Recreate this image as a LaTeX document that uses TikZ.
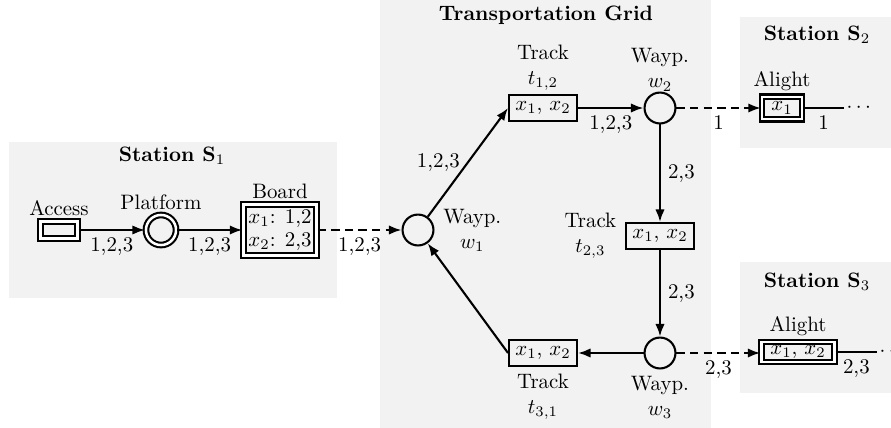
\documentclass[tikz,border=0pt]{standalone}
\usetikzlibrary{arrows.meta,positioning}
\begin{document}
\begin{tikzpicture}[x=0.016835cm,y=-0.016835cm,
  bg/.style={fill=black!5},
  ttl/.style={font=\bfseries},
  way/.style={circle,draw,line width=1pt,minimum size=14.8pt,inner sep=0pt},
  plat/.style={circle,draw,line width=1pt,double,double distance=1.2pt,minimum size=14.4pt,inner sep=0pt},
  trk/.style={rectangle,draw,line width=1pt,minimum width=32.5pt,minimum height=12.4pt,inner sep=1pt},
  dbox/.style={rectangle,draw,line width=1pt,double,double distance=1.2pt,inner sep=1pt},
  arr/.style={line width=1pt,-{Latex[length=6pt,width=4.5pt]}},
  darr/.style={arr,dash pattern=on 4pt off 2.5pt},
  ln/.style={line width=1pt},
  lbl/.style={inner sep=2pt,align=center},
  ]
\useasboundingbox (0,0) rectangle (891,428);
% backgrounds
\fill[bg] (9,142) rectangle (337,298);
\fill[bg] (380,0) rectangle (711,428);
\fill[bg] (740,17) rectangle (891,148);
\fill[bg] (740,262) rectangle (891,393);
% titles
\node[ttl] (tS1) at (172,156) {Station $\mathbf{S}_1$};
\node[ttl] (tG) at (546,15) {Transportation Grid};
\node[ttl] (tS2) at (817,35) {Station $\mathbf{S}_2$};
\node[ttl] (tS3) at (817,282) {Station $\mathbf{S}_3$};
% station 1
\node[dbox,minimum width=17.8pt,minimum height=8.3pt] (acc) at (59,230) {};
\node[lbl,above=0pt of acc.north] (accL) {Access};
\node[plat] (plat) at (161,230) {};
\node[lbl,above=0pt of plat.north] (platL) {Platform};
\node[dbox,minimum width=35.1pt,minimum height=24.6pt,align=left,inner sep=1pt] (board) at (280,230) {$x_1$: 1,2\\[-1pt]$x_2$: 2,3};
\node[lbl,above=0pt of board.north] (boardL) {Board};
% grid
\node[way] (w1) at (418,230) {};
\node[lbl,right=2pt of w1] (w1L) {Wayp.\\$w_1$};
\node[trk] (t12) at (543,108) {$x_1$, $x_2$};
\node[lbl,above=-0.5pt of t12] (t12L) {Track\\$t_{1,2}$};
\node[way] (w2) at (660,108) {};
\node[lbl,above=-2pt of w2] (w2L) {Wayp.\\$w_2$};
\node[trk] (t23) at (660,236) {$x_1$, $x_2$};
\node[lbl,left=2pt of t23] (t23L) {Track\\$t_{2,3}$};
\node[way] (w3) at (660,353) {};
\node[lbl,below=1pt of w3] (w3L) {Wayp.\\$w_3$};
\node[trk] (t31) at (543,353) {$x_1$, $x_2$};
\node[lbl,below=1pt of t31] (t31L) {Track\\$t_{3,1}$};
% station 2 and 3
\node[dbox,minimum width=19.3pt,minimum height=10.7pt] (al2) at (782,108) {$x_1$};
\node[lbl,above=0pt of al2.north] (al2L) {Alight};
\node[dbox,minimum width=35.1pt,minimum height=9.7pt] (al3) at (798,352) {$x_1$, $x_2$};
\node[lbl,above=0pt of al3.north] (al3L) {Alight};
\coordinate (e2) at (844,108);
\coordinate (e3) at (877,352);
\node[right=0pt of e2,inner sep=1pt] (d2) {$\cdots$};
\node[right=0pt of e3,inner sep=1pt] (d3) {$\cdots$};
% connectors
\draw[arr] (acc) -- node[below] {1,2,3} (plat);
\draw[arr] (plat) -- node[below] {1,2,3} (board);
\draw[darr] (board) -- node[below] {1,2,3} (w1);
\draw[arr] (w1) -- node[left] {1,2,3} (t12.west);
\draw[arr] (t12) -- node[below] {1,2,3} (w2);
\draw[arr] (w2) -- node[right] {2,3} (t23);
\draw[arr] (t23) -- node[right] {2,3} (w3);
\draw[arr] (w3) -- (t31);
\draw[arr] (t31.west) -- (w1);
\draw[darr] (w2) -- node[below] {1} (al2);
\draw[darr] (w3) -- node[below] {2,3} (al3.west |- w3);
\draw[ln] (al2) -- node[below] {1} (e2);
\draw[ln] (al3.east) -- node[below] {2,3} (e3);
\end{tikzpicture}
\end{document}
